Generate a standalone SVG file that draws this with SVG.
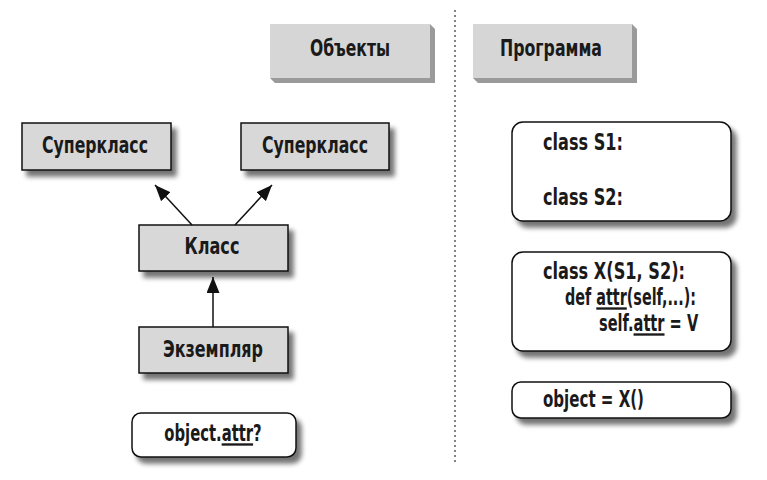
<svg xmlns="http://www.w3.org/2000/svg" width="767" height="480" viewBox="0 0 767 480">
<defs>
<filter id="sh" x="-20%" y="-30%" width="150%" height="180%">
<feGaussianBlur in="SourceAlpha" stdDeviation="2.5"/>
<feOffset dx="5" dy="6" result="b"/>
<feComponentTransfer><feFuncA type="linear" slope="0.55"/></feComponentTransfer>
<feMerge><feMergeNode/><feMergeNode in="SourceGraphic"/></feMerge>
</filter>
<marker id="ah" viewBox="0 0 16 13" refX="16" refY="6.5" markerWidth="16" markerHeight="13" markerUnits="userSpaceOnUse" orient="auto">
<path d="M0,0 L16,6.5 L0,13 z" fill="#111"/>
</marker>
</defs>
<style>
text{font-family:"Liberation Sans Narrow","DejaVu Sans Condensed","Liberation Sans",sans-serif;font-weight:bold;font-size:23.5px;fill:#1a1a1a}
.c{text-anchor:middle}
.box{fill:#d8d8d8;stroke:#111;stroke-width:1.5}
.rbox{fill:#fff;stroke:#111;stroke-width:1.5}
.hdr{fill:#d6d6d6}
.hsh{fill:#9a9a9a}
.conn{stroke:#111;stroke-width:1.5;fill:none;marker-end:url(#ah)}
.u{text-decoration:underline}
</style>
<rect width="767" height="480" fill="#fff"/>
<line x1="455" y1="10" x2="455" y2="462" stroke="#333" stroke-width="1.2" stroke-dasharray="2,3"/>
<g id="hdr-objects">
<polygon class="hsh" points="430,24 435,29 435,83 275,83 270,78 430,78"/>
<rect class="hdr" x="270" y="24" width="160" height="54"/>
<text class="c" x="350" y="56" textLength="80" lengthAdjust="spacingAndGlyphs">Объекты</text>
</g>
<g id="hdr-program">
<polygon class="hsh" points="632,24 637,29 637,83 478,83 473,78 632,78"/>
<rect class="hdr" x="473" y="24" width="159" height="54"/>
<text class="c" x="551" y="56" textLength="102" lengthAdjust="spacingAndGlyphs">Программа</text>
</g>
<g id="super1">
<rect class="box" x="22" y="123" width="149" height="47" filter="url(#sh)"/>
<text class="c" x="95" y="153" textLength="106" lengthAdjust="spacingAndGlyphs">Суперкласс</text>
</g>
<g id="super2">
<rect class="box" x="241" y="123" width="148" height="47" filter="url(#sh)"/>
<text class="c" x="315" y="153" textLength="106" lengthAdjust="spacingAndGlyphs">Суперкласс</text>
</g>
<g id="klass">
<rect class="box" x="139" y="225" width="149" height="46" filter="url(#sh)"/>
<text class="c" x="212" y="254" textLength="55" lengthAdjust="spacingAndGlyphs">Класс</text>
</g>
<g id="instance">
<rect class="box" x="139" y="327" width="149" height="46" filter="url(#sh)"/>
<text class="c" x="213" y="357" textLength="100" lengthAdjust="spacingAndGlyphs">Экземпляр</text>
</g>
<g id="query">
<rect class="rbox" x="132" y="413" width="164" height="44" rx="9" filter="url(#sh)"/>
<text class="c" transform="translate(213,441) scale(0.70,1)">object.<tspan class="u">attr</tspan>?</text>
</g>
<g id="code-s">
<rect class="rbox" x="512" y="122" width="219" height="99" rx="11" filter="url(#sh)"/>
<text x="543" y="150" textLength="80" lengthAdjust="spacingAndGlyphs">class S1:</text>
<text x="543" y="205" textLength="80" lengthAdjust="spacingAndGlyphs">class S2:</text>
</g>
<g id="code-x">
<rect class="rbox" x="512" y="252" width="219" height="99" rx="11" filter="url(#sh)"/>
<text x="543" y="279" textLength="142" lengthAdjust="spacingAndGlyphs">class X(S1, S2):</text>
<text transform="translate(565,305) scale(0.68,1)">def <tspan class="u">attr</tspan>(self,...):</text>
<text transform="translate(599,331) scale(0.69,1)">self.<tspan class="u">attr</tspan> = V</text>
</g>
<g id="code-obj">
<rect class="rbox" x="512" y="382" width="219" height="36" rx="9" filter="url(#sh)"/>
<text x="543" y="407" textLength="101" lengthAdjust="spacingAndGlyphs">object = X()</text>
</g>
<g id="connectors">
<line class="conn" x1="192" y1="225" x2="155" y2="185"/>
<line class="conn" x1="235" y1="225" x2="272" y2="185"/>
<line class="conn" x1="213" y1="327" x2="213" y2="277"/>
</g>
</svg>
